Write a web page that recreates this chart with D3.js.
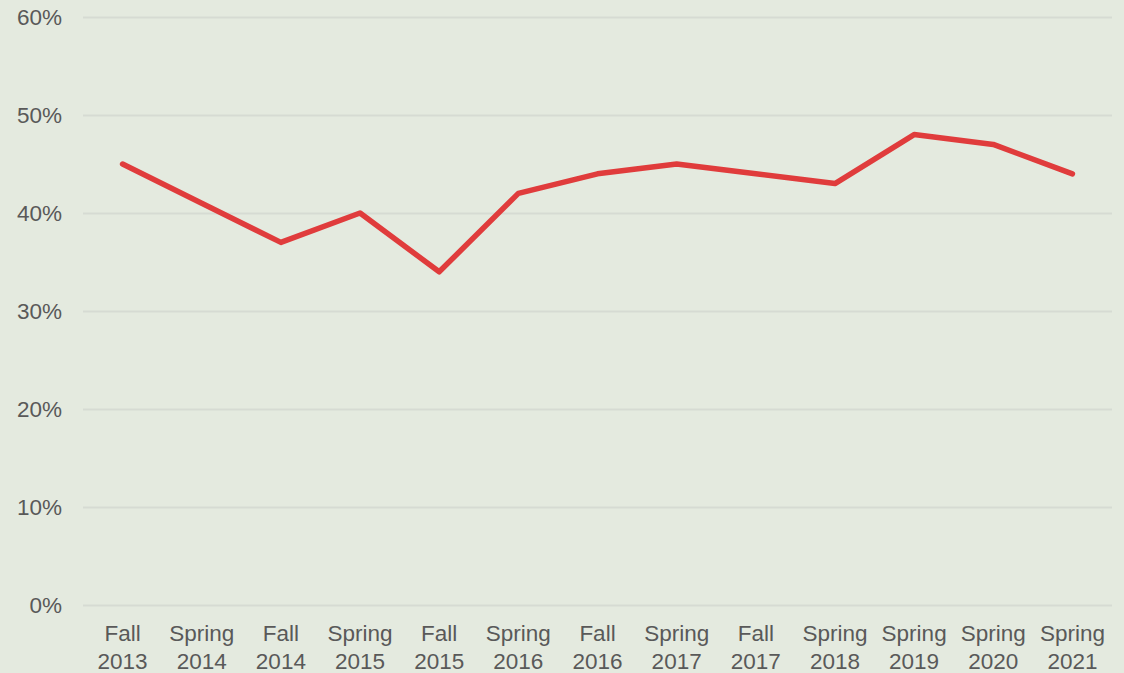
<!DOCTYPE html>
<html><head><meta charset="utf-8">
<script src="https://cdn.jsdelivr.net/npm/d3@7"></script>
<style>
html,body{margin:0;padding:0;background:#e4eadf;}
svg{display:block;}
text{font-family:"Liberation Sans",Arial,sans-serif;}
</style></head>
<body>
<svg id="chart" width="1124" height="673"></svg>
<script>
const categories = [["Fall","2013"],["Spring","2014"],["Fall","2014"],["Spring","2015"],["Fall","2015"],["Spring","2016"],["Fall","2016"],["Spring","2017"],["Fall","2017"],["Spring","2018"],["Spring","2019"],["Spring","2020"],["Spring","2021"]];
const values = [0.45,0.41,0.37,0.40,0.34,0.42,0.44,0.45,0.44,0.43,0.48,0.47,0.44];
const yTicks = [0,0.1,0.2,0.3,0.4,0.5,0.6];

const W=1124,H=673;
const m={left:83,right:12,top:17,bottom:68};
const svg=d3.select("#chart");
svg.append("rect").attr("width",W).attr("height",H).attr("fill","#e4eadf");

const x=d3.scaleBand().domain(categories.map((d,i)=>i)).range([m.left,W-m.right]);
const y=d3.scaleLinear().domain([0,0.6]).range([H-m.bottom,m.top]);

const yAxis=svg.append("g").attr("transform",`translate(${m.left},0)`)
  .call(d3.axisLeft(y).tickValues(yTicks).tickFormat(d3.format(".0%")).tickSize(-(W-m.left-m.right)).tickPadding(21));
yAxis.select(".domain").remove();
yAxis.selectAll(".tick line").attr("stroke","#d6dbd3").attr("stroke-width",2);
yAxis.selectAll(".tick text").attr("fill","#595959").attr("font-size","22.5px").attr("dy","0.33em");

const xAxis=svg.append("g").attr("transform",`translate(0,${H-m.bottom})`)
  .call(d3.axisBottom(x).tickSize(0).tickFormat(""));
xAxis.select(".domain").remove();
xAxis.selectAll(".tick").each(function(d){
  const t=d3.select(this).append("text").attr("fill","#595959").attr("font-size","22.5px").attr("text-anchor","middle");
  t.append("tspan").attr("x",0).attr("y",36).text(categories[d][0]);
  t.append("tspan").attr("x",0).attr("y",64).text(categories[d][1]);
});

const line=d3.line().x((d,i)=>x(i)+x.bandwidth()/2).y(d=>y(d));
svg.append("path").datum(values).attr("d",line).attr("fill","none")
  .attr("stroke","#e03c3c").attr("stroke-width",5.5).attr("stroke-linejoin","round").attr("stroke-linecap","round");
</script>
</body></html>
